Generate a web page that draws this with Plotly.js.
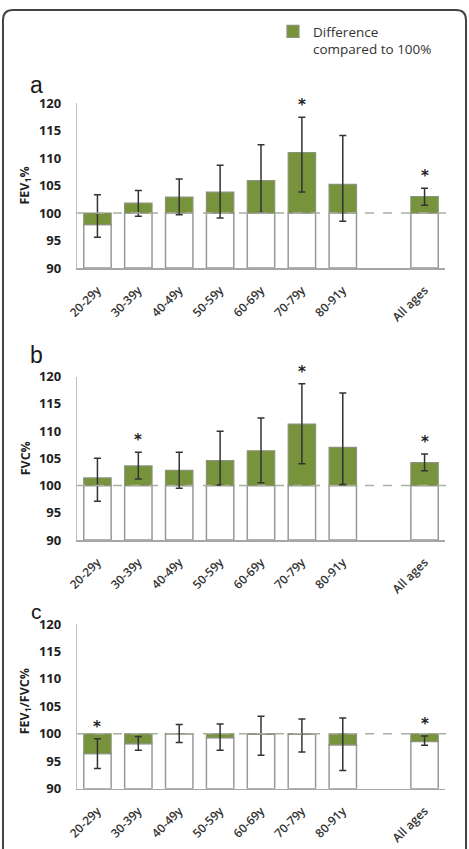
<!DOCTYPE html>
<html>
<head>
<meta charset="utf-8">
<script src="https://cdn.plot.ly/plotly-3.0.1.min.js"></script>
<style>html,body{margin:0;padding:0;background:#fff;}#chart{width:469px;height:849px;}</style>
</head>
<body>
<div id="chart"></div>
<script>
// ---- data ----
const categories = ['20-29y','30-39y','40-49y','50-59y','60-69y','70-79y','80-91y',' ','All ages'];
const tickLabels = ['20-29y','30-39y','40-49y','50-59y','60-69y','70-79y','80-91y','All ages'];

const fev1Values = [97.9, 101.8, 102.9, 103.8, 105.9, 111.0, 105.2, null, 103.0];
const fev1ErrHigh = [103.3, 104.1, 106.2, 108.7, 112.4, 117.4, 114.1, null, 104.5];
const fev1ErrLow  = [95.6, 99.4, 99.7, 99.1, 100.1, 103.8, 98.5, null, 101.4];
const fev1Signif  = [false,false,false,false,false,true,false,false,true];

const fvcValues = [101.4, 103.6, 102.8, 104.6, 106.4, 111.3, 107.0, null, 104.2];
const fvcErrHigh = [105.0, 106.1, 106.1, 110.0, 112.4, 118.7, 117.0, null, 105.8];
const fvcErrLow  = [97.1, 101.2, 99.5, 100.1, 100.5, 104.0, 100.2, null, 102.7];
const fvcSignif  = [false,true,false,false,false,true,false,false,true];

const ratioValues = [96.4, 98.2, 100.05, 99.3, 99.9, 99.9, 98.0, null, 98.6];
const ratioErrHigh = [99.1, 99.5, 101.7, 101.8, 103.2, 102.7, 102.9, null, 99.6];
const ratioErrLow  = [93.7, 97.0, 98.4, 97.0, 96.1, 96.7, 93.3, null, 97.9];
const ratioSignif  = [true,false,false,false,false,false,false,false,true];

const yTickVals = [90, 95, 100, 105, 110, 115, 120];
const reference = 100;
const axisFloor = 90;
const legendLabel = 'Difference<br>compared to 100%';

// ---- styling ----
const green = '#77933c';
const outline = '#999999';
const W = 469, H = 849;
const xDom = [77/W, 445/W];
const panels = [
  {vals: fev1Values, hi: fev1ErrHigh, lo: fev1ErrLow, sig: fev1Signif, top: 103, bottom: 268, letter: 'a', letterY: 85, title: 'FEV<sub>1</sub>%'},
  {vals: fvcValues, hi: fvcErrHigh, lo: fvcErrLow, sig: fvcSignif, top: 376.7, bottom: 540, letter: 'b', letterY: 355, title: 'FVC%'},
  {vals: ratioValues, hi: ratioErrHigh, lo: ratioErrLow, sig: ratioSignif, top: 624, bottom: 788.7, letter: 'c', letterY: 611, title: 'FEV<sub>1</sub>/FVC%'}
];

const traces = [];
const annotations = [];
const shapes = [];
const layout = {
  width: W, height: H,
  margin: {l: 0, r: 0, t: 0, b: 0},
  paper_bgcolor: '#fff', plot_bgcolor: '#fff',
  barmode: 'overlay',
  bargap: 0.33,
  showlegend: true,
  legend: {x: 273/W, y: 1 - 16/H, xanchor: 'left', yanchor: 'top', valign: 'top',
           font: {family: 'Open Sans, sans-serif', size: 13.5, color: '#333333'},
           bgcolor: 'rgba(0,0,0,0)', tracegroupgap: 0, itemwidth: 30},
  font: {family: 'Open Sans, sans-serif', color: '#404040'}
};

panels.forEach((p, i) => {
  const n = i === 0 ? '' : String(i + 1);
  const xa = 'x' + n, ya = 'y' + n;
  const whiteBase = p.vals.map(v => v == null ? null : axisFloor);
  const whiteH = p.vals.map(v => v == null ? null : Math.min(v, reference) - axisFloor);
  const greenBase = p.vals.map(v => v == null ? null : Math.min(v, reference));
  const greenH = p.vals.map(v => v == null ? null : Math.abs(v - reference));

  traces.push({
    type: 'bar', x: categories, y: whiteH, base: whiteBase, xaxis: xa, yaxis: ya,
    marker: {color: '#ffffff', line: {color: outline, width: 1.5}},
    showlegend: false, hoverinfo: 'skip'
  });
  traces.push({
    type: 'bar', x: categories, y: greenH, base: greenBase, xaxis: xa, yaxis: ya,
    marker: {color: green, line: {color: '#8a9478', width: 1.2}},
    name: legendLabel, showlegend: i === 0, hoverinfo: 'skip'
  });
  traces.push({
    type: 'scatter', mode: 'markers', x: categories, y: p.vals, xaxis: xa, yaxis: ya,
    marker: {size: 1, color: 'rgba(0,0,0,0)'},
    error_y: {type: 'data', symmetric: false,
              array: p.vals.map((v, k) => v == null ? null : p.hi[k] - v),
              arrayminus: p.vals.map((v, k) => v == null ? null : v - p.lo[k]),
              color: '#333333', thickness: 1.5, width: 3.5},
    showlegend: false, hoverinfo: 'skip'
  });

  layout['xaxis' + n] = {
    domain: xDom, anchor: ya, type: 'category', categoryorder: 'array', categoryarray: categories,
    range: [-0.5, categories.length - 0.5],
    tickvals: tickLabels, ticktext: tickLabels,
    showline: true, linecolor: '#a6a6a6', linewidth: 1.5, showgrid: false, zeroline: false,
    ticks: '', tickangle: -45, ticklabelstandoff: 9,
    tickfont: {family: 'Open Sans, sans-serif', size: 12, color: '#333333', weight: 600},
    automargin: false, fixedrange: true
  };
  layout['yaxis' + n] = {
    domain: [1 - p.bottom/H, 1 - p.top/H], anchor: xa, range: [axisFloor, 120],
    tickvals: yTickVals, ticktext: yTickVals.map(String),
    showline: true, linecolor: '#bfbfbf', linewidth: 1.2, showgrid: false, zeroline: false,
    ticks: '', ticklabelstandoff: 12,
    tickfont: {family: 'Open Sans, sans-serif', size: 13, color: '#1f1f1f', weight: 700},
    automargin: false, fixedrange: true
  };

  shapes.push({type: 'line', xref: xa + ' domain', yref: ya, x0: 0, x1: 1.006, y0: reference, y1: reference,
               line: {color: '#a9b0a0', width: 1.5, dash: 'dash'}, layer: 'above'});

  p.sig.forEach((s, k) => {
    if (s) annotations.push({xref: xa, yref: ya, x: categories[k], y: p.hi[k], text: '*',
      showarrow: false, yanchor: 'bottom', yshift: 1,
      font: {family: 'DejaVu Sans, sans-serif', size: 15, color: '#222', weight: 700}});
  });

  annotations.push({xref: 'paper', yref: 'paper', x: 36/W, y: 1 - p.letterY/H, text: p.letter,
    showarrow: false, xanchor: 'center', yanchor: 'middle',
    font: {family: 'Liberation Sans, sans-serif', size: i === 2 ? 21 : 23, color: '#1a1a1a'}});
  annotations.push({xref: 'paper', yref: 'paper', x: 25/W, y: 1 - ((p.top + p.bottom)/2 + (i===2?-5:0))/H,
    text: '<b>' + p.title + '</b>', textangle: -90, showarrow: false, xanchor: 'center', yanchor: 'middle',
    font: {family: 'Open Sans, sans-serif', size: 12.5, color: '#1f1f1f'}});
});

// outer rounded border
const x0 = 3/W, x1 = 466/W, yT = 1 - 10/H, rx = 10/W, ry = 10/H;
shapes.push({type: 'path', xref: 'paper', yref: 'paper',
  path: `M${x0},-0.02 L${x0},${yT - ry} Q${x0},${yT} ${x0 + rx},${yT} L${x1 - rx},${yT} Q${x1},${yT} ${x1},${yT - ry} L${x1},-0.02`,
  line: {color: '#444444', width: 2}});

layout.annotations = annotations;
layout.shapes = shapes;

Plotly.newPlot('chart', traces, layout, {displayModeBar: false, staticPlot: true});
</script>
</body>
</html>
